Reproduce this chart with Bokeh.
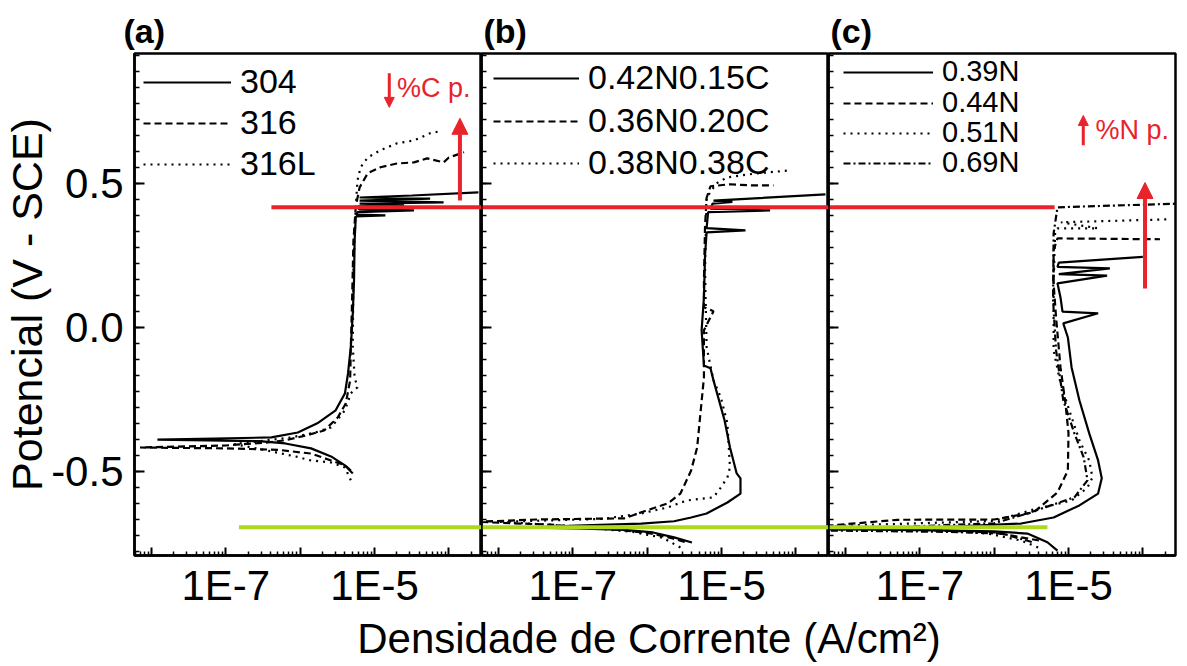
from bokeh.plotting import figure
from bokeh.models import (FixedTicker, NumeralTickFormatter, Legend, LegendItem,
                          Arrow, NormalHead, Label, Range1d, Title)
from bokeh.layouts import column, row
from bokeh.embed import file_html
from bokeh.resources import INLINE

FONT = "Liberation Sans"
RED = "#e8232b"
GREEN = "#abd91e"

# ---------------- axes ----------------
X_START, X_END = 5.9e-9, 2.75e-4
Y_START, Y_END = -0.792, 0.951
X_MAJOR = [1e-8, 1e-7, 1e-6, 1e-5, 1e-4]
X_LABELS = ["", "1E-7", "", "1E-5", ""]
X_MINOR = [m * 10.0 ** k for k in range(-9, -3) for m in range(2, 10)]
Y_MAJOR = [-0.5, 0.0, 0.5]
Y_MINOR = [i * 0.5 / 9 for i in range(-15, 18)]

# ---------------- panel (a) ----------------
a_labels = ["304", "316", "316L"]
a_304_i = [5.1e-6, 4.0e-6, 2.6e-6, 1.4e-6, 6.3e-7, 2.8e-7, 1.2e-8, 4.1e-7, 9.3e-7, 1.7e-6,
           3.0e-6, 4.0e-6, 4.4e-6, 4.8e-6, 5.1e-6, 5.3e-6, 5.4e-6, 5.6e-6, 1.4e-5, 5.7e-6,
           5.9e-6, 3.4e-5, 6.2e-6, 6.0e-6, 2.5e-5, 6.3e-6, 8.5e-5, 6.3e-6, 5.6e-5, 6.3e-6,
           3.2e-5, 2.5e-4]
a_304_v = [-0.507, -0.479, -0.448, -0.42, -0.403, -0.395, -0.390, -0.382, -0.365, -0.333,
           -0.288, -0.229, -0.16, -0.068, 0.047, 0.163, 0.30, 0.385, 0.389, 0.392,
           0.40, 0.406, 0.41, 0.42, 0.425, 0.43, 0.434, 0.44, 0.447, 0.451,
           0.458, 0.469]
a_316_i = [4.8e-6, 4.0e-6, 2.6e-6, 1.4e-6, 5.0e-7, 1.0e-7, 7.0e-9, 1.0e-7, 3.4e-7, 6.3e-7,
           1.2e-6, 2.1e-6, 3.2e-6, 4.1e-6, 4.7e-6, 4.8e-6, 5.0e-6, 5.2e-6, 5.6e-6, 6.3e-6,
           8.1e-6, 1.2e-5, 2.0e-5, 3.4e-5, 5.1e-5, 8.5e-5, 1.0e-4, 1.6e-4]
a_316_v = [-0.497, -0.479, -0.462, -0.438, -0.425, -0.42, -0.417, -0.41, -0.40, -0.392,
           -0.375, -0.358, -0.313, -0.264, -0.184, -0.068, 0.10, 0.30, 0.42, 0.486,
           0.535, 0.556, 0.569, 0.573, 0.587, 0.573, 0.59, 0.608]
a_316L_i = [4.8e-6, 4.0e-6, 2.6e-6, 1.4e-6, 9.3e-7, 4.0e-7, 1.3e-7, 7.6e-7, 1.6e-6, 2.6e-6,
            4.0e-6, 4.8e-6, 5.9e-6, 5.4e-6, 5.1e-6, 5.2e-6, 5.6e-6, 5.9e-6, 6.5e-6, 8.1e-6,
            1.2e-5, 2.0e-5, 3.4e-5, 5.6e-5, 7.6e-5]
a_316L_v = [-0.531, -0.486, -0.469, -0.462, -0.45, -0.43, -0.405, -0.382, -0.365, -0.347,
            -0.288, -0.229, -0.208, -0.174, -0.068, 0.20, 0.42, 0.51, 0.556, 0.59,
            0.615, 0.639, 0.649, 0.674, 0.681]

# ---------------- panel (b) ----------------
b_labels = ["0.42N0.15C", "0.36N0.20C", "0.38N0.38C"]
b_s1_i = [4.0e-6, 2.3e-6, 1.2e-6, 4.9e-7, 1.1e-7, 2.8e-8, 1.1e-7, 8.3e-7, 2.3e-6, 3.9e-6,
          6.3e-6, 1.2e-5, 1.8e-5, 1.8e-5, 1.6e-5, 1.3e-5, 1.1e-5, 7.8e-6, 7.1e-6, 5.8e-6,
          5.4e-6, 5.8e-6, 6.0e-6, 6.3e-6, 2.1e-5, 6.3e-6, 6.6e-6, 4.5e-5, 7.1e-6, 7.6e-6,
          1.4e-5, 7.8e-6, 3.2e-5, 2.5e-4]
b_s1_v = [-0.747, -0.729, -0.712, -0.703, -0.698, -0.695, -0.688, -0.681, -0.673, -0.66,
          -0.646, -0.608, -0.577, -0.524, -0.507, -0.417, -0.323, -0.184, -0.142, -0.132,
          -0.01, 0.104, 0.25, 0.33, 0.337, 0.345, 0.40, 0.406, 0.412, 0.43,
          0.436, 0.44, 0.449, 0.462]
b_s2_i = [3.2e-6, 2.2e-6, 1.1e-6, 3.2e-7, 5.0e-8, 5.0e-9, 3.2e-8, 4.9e-7, 1.0e-6, 1.9e-6,
          2.8e-6, 3.9e-6, 4.7e-6, 5.2e-6, 5.8e-6, 5.8e-6, 7.8e-6, 5.8e-6, 5.8e-6, 6.0e-6,
          6.3e-6, 7.1e-6, 1.3e-5, 2.5e-5, 5.0e-5]
b_s2_v = [-0.745, -0.733, -0.715, -0.70, -0.685, -0.675, -0.667, -0.663, -0.635, -0.611,
          -0.577, -0.497, -0.417, -0.30, -0.174, -0.01, 0.056, 0.07, 0.163, 0.35,
          0.45, 0.49, 0.497, 0.493, 0.493]
b_s3_i = [2.8e-6, 1.6e-6, 6.3e-7, 1.0e-7, 1.0e-8, 2.5e-7, 8.3e-7, 1.9e-6, 3.4e-6, 7.8e-6,
          9.8e-6, 1.2e-5, 1.3e-5, 1.2e-5, 9.8e-6, 7.8e-6, 6.3e-6, 6.0e-6, 6.3e-6, 8.5e-6,
          1.2e-5, 3.0e-5, 8.3e-5]
b_s3_v = [-0.764, -0.73, -0.71, -0.69, -0.675, -0.665, -0.646, -0.625, -0.601, -0.59,
          -0.556, -0.521, -0.486, -0.333, -0.243, -0.184, -0.068, 0.20, 0.45, 0.50,
          0.521, 0.535, 0.545]

# ---------------- panel (c) ----------------
c_labels = ["0.39N", "0.44N", "0.51N", "0.69N"]
c_s1_i = [7.1e-6, 5.2e-6, 2.8e-6, 1.0e-6, 1.8e-7, 5.0e-9, 1.8e-7, 2.3e-6, 6.3e-6, 1.4e-5,
          2.5e-5, 2.8e-5, 2.5e-5, 1.9e-5, 1.4e-5, 1.1e-5, 9.8e-6, 8.5e-6, 2.5e-5, 8.3e-6,
          7.8e-6, 7.1e-6, 3.3e-5, 7.4e-6, 3.6e-5, 7.1e-6, 7.4e-6, 1.0e-4]
c_s1_v = [-0.775, -0.746, -0.716, -0.708, -0.705, -0.70, -0.694, -0.681, -0.66, -0.618,
          -0.577, -0.524, -0.462, -0.368, -0.253, -0.139, -0.035, 0.014, 0.049, 0.055,
          0.104, 0.153, 0.18, 0.185, 0.205, 0.21, 0.225, 0.245]
c_s2_i = [4.0e-6, 1.0e-6, 1.6e-7, 5.0e-9, 5.0e-8, 1.0e-6, 3.4e-6, 7.1e-6, 9.8e-6, 1.0e-5,
          9.1e-6, 7.8e-6, 6.8e-6, 6.3e-6, 6.3e-6, 7.1e-6, 1.7e-4]
c_s2_v = [-0.74, -0.712, -0.705, -0.69, -0.668, -0.667, -0.642, -0.573, -0.497, -0.368,
          -0.264, -0.139, 0.035, 0.153, 0.267, 0.309, 0.306]
c_s3_i = [3.9e-6, 2.3e-6, 8.3e-7, 1.0e-7, 5.0e-9, 1.0e-7, 1.0e-6, 3.1e-6, 1.1e-5, 1.8e-5,
          2.1e-5, 1.9e-5, 1.4e-5, 1.1e-5, 7.8e-6, 6.3e-6, 6.3e-6, 6.6e-6, 7.1e-6, 2.5e-5,
          7.9e-6, 2.1e-4]
c_s3_v = [-0.764, -0.74, -0.716, -0.70, -0.69, -0.68, -0.672, -0.635, -0.601, -0.556,
          -0.521, -0.462, -0.392, -0.312, -0.194, -0.08, 0.153, 0.33, 0.344, 0.344,
          0.365, 0.375]
c_s4_i = [3.2e-6, 1.3e-6, 2.5e-7, 5.0e-9, 1.0e-7, 1.0e-6, 2.8e-6, 1.2e-5, 1.8e-5, 1.6e-5,
          1.2e-5, 8.5e-6, 6.8e-6, 6.2e-6, 6.3e-6, 7.1e-6, 3.2e-4]
c_s4_v = [-0.745, -0.716, -0.71, -0.705, -0.69, -0.68, -0.646, -0.59, -0.531, -0.451,
          -0.368, -0.253, -0.08, 0.094, 0.326, 0.417, 0.43]

# ---------------- annotations (red / green guides) ----------------
RED_V = 0.417
RED_A_FROM = 4.1e-7
RED_C_TO = 6.5e-6
GREEN_V = -0.694
GREEN_A_FROM = 1.5e-7
GREEN_C_TO = 5.2e-6

FW, FH = 347, 502
DASH = {"solid": "solid", "dashed": "7 4", "dotted": "2 5", "dashdot": "7 3 2 3"}


def make_panel(title, t_offset, first):
    p = figure(frame_width=FW, frame_height=FH, x_axis_type="log",
               x_range=Range1d(X_START, X_END), y_range=Range1d(Y_START, Y_END),
               output_backend="svg", toolbar_location=None,
               min_border_left=128 if first else 0, min_border_right=0,
               min_border_top=53, min_border_bottom=0)
    p.title = Title(text=title, text_font=FONT, text_font_style="bold", text_color="black",
                    text_font_size="34px", align="left", offset=t_offset, standoff=8)
    p.grid.visible = False
    p.outline_line_color = "black"
    p.outline_line_width = 2.5
    p.background_fill_color = "white"
    p.border_fill_color = "white"

    xa = p.xaxis[0]
    xa.ticker = FixedTicker(ticks=X_MAJOR, minor_ticks=X_MINOR)
    xa.major_label_overrides = {t: l for t, l in zip(X_MAJOR, X_LABELS)}
    xa.major_label_text_font = FONT
    xa.major_label_text_color = "black"
    xa.major_label_text_font_size = "42px"
    xa.major_label_standoff = 6
    xa.major_tick_in, xa.major_tick_out = 8, 0
    xa.minor_tick_in, xa.minor_tick_out = 4, 0
    xa.axis_line_width = 2.5
    xa.major_tick_line_width = 2
    xa.minor_tick_line_width = 1.5

    ya = p.yaxis[0]
    ya.ticker = FixedTicker(ticks=Y_MAJOR, minor_ticks=Y_MINOR)
    ya.major_tick_in, ya.major_tick_out = 10, 0
    ya.minor_tick_in, ya.minor_tick_out = 5, 0
    ya.axis_line_width = 2.5
    ya.major_tick_line_width = 2
    ya.minor_tick_line_width = 1.5
    if first:
        ya.formatter = NumeralTickFormatter(format="0.0")
        ya.major_label_text_font = FONT
        ya.major_label_text_color = "black"
        ya.major_label_text_font_size = "42px"
        ya.major_label_standoff = 11
        ya.axis_label = "Potencial (V - SCE)"
        ya.axis_label_text_font = FONT
        ya.axis_label_text_color = "black"
        ya.axis_label_text_font_size = "43px"
        ya.axis_label_text_font_style = "normal"
        ya.axis_label_standoff = -3
    else:
        ya.major_label_overrides = {t: "" for t in Y_MAJOR}
        ya.major_label_standoff = 0
    return p


def add_legend(p, renderers, labels, font_size, glyph_w, locs):
    # one single-entry legend per series, so that rows can sit as close as the reference
    for r, l, loc in zip(renderers, labels, locs):
        leg = Legend(items=[LegendItem(label=l, renderers=[r])], location=loc,
                     padding=0, margin=0, spacing=0,
                     glyph_width=glyph_w, glyph_height=16, label_height=16,
                     label_standoff=9, label_text_font=FONT, label_text_color="black",
                     label_text_font_size=font_size,
                     background_fill_alpha=0, border_line_alpha=0)
        p.add_layout(leg)


def curve(p, xs, ys, style):
    return p.line(xs, ys, line_color="black", line_width=2.2, line_dash=DASH[style])


# ----- (a)
pa = make_panel("(a)", -11, True)
ra = [curve(pa, a_304_i, a_304_v, "solid"),
      curve(pa, a_316_i, a_316_v, "dashed"),
      curve(pa, a_316L_i, a_316L_v, "dotted")]
add_legend(pa, ra, a_labels, "34px", 88, [(9, 454), (9, 413), (9, 372)])
pa.segment(x0=[RED_A_FROM], y0=[RED_V], x1=[X_END], y1=[RED_V], line_color=RED, line_width=4)
pa.segment(x0=[GREEN_A_FROM], y0=[GREEN_V], x1=[X_END], y1=[GREEN_V], line_color=GREEN, line_width=4)
pa.add_layout(Arrow(end=NormalHead(size=16, fill_color=RED, line_color=RED),
                    x_start=1.41e-4, y_start=0.441, x_end=1.41e-4, y_end=0.726,
                    line_color=RED, line_width=4))
pa.add_layout(Arrow(end=NormalHead(size=10, fill_color=RED, line_color=RED),
                    x_start=1.58e-5, y_start=0.882, x_end=1.58e-5, y_end=0.764,
                    line_color=RED, line_width=3))
pa.add_layout(Label(x=2.0e-5, y=0.83, text="%C p.", text_color=RED, text_font=FONT,
                    text_font_size="27px", text_baseline="middle"))

# ----- (b)
pb = make_panel("(b)", 2, False)
rb = [curve(pb, b_s1_i, b_s1_v, "solid"),
      curve(pb, b_s2_i, b_s2_v, "dashed"),
      curve(pb, b_s3_i, b_s3_v, "dotted")]
add_legend(pb, rb, b_labels, "34px", 86, [(12, 458), (12, 415), (12, 373)])
pb.segment(x0=[X_START], y0=[RED_V], x1=[X_END], y1=[RED_V], line_color=RED, line_width=4)
pb.segment(x0=[X_START], y0=[GREEN_V], x1=[X_END], y1=[GREEN_V], line_color=GREEN, line_width=4)

# ----- (c)
pc = make_panel("(c)", 2, False)
pc.min_border_right = 2
rc = [curve(pc, c_s1_i, c_s1_v, "solid"),
      curve(pc, c_s2_i, c_s2_v, "dashed"),
      curve(pc, c_s3_i, c_s3_v, "dotted"),
      curve(pc, c_s4_i, c_s4_v, "dashdot")]
add_legend(pc, rc, c_labels, "29px", 90, [(15, 467), (15, 436), (15, 406), (15, 376)])
pc.segment(x0=[X_START], y0=[RED_V], x1=[RED_C_TO], y1=[RED_V], line_color=RED, line_width=4)
pc.segment(x0=[X_START], y0=[GREEN_V], x1=[GREEN_C_TO], y1=[GREEN_V], line_color=GREEN, line_width=4)
pc.add_layout(Arrow(end=NormalHead(size=16, fill_color=RED, line_color=RED),
                    x_start=1.07e-4, y_start=0.135, x_end=1.07e-4, y_end=0.503,
                    line_color=RED, line_width=4))
pc.add_layout(Arrow(end=NormalHead(size=10, fill_color=RED, line_color=RED),
                    x_start=1.58e-5, y_start=0.632, x_end=1.58e-5, y_end=0.736,
                    line_color=RED, line_width=3))
pc.add_layout(Label(x=2.3e-5, y=0.684, text="%N p.", text_color=RED, text_font=FONT,
                    text_font_size="27px", text_baseline="middle"))

# ----- shared x-axis title
ft = figure(frame_width=3 * FW, frame_height=1, x_range=Range1d(0, 1), y_range=Range1d(0, 1),
            output_backend="svg", toolbar_location=None,
            min_border_left=128, min_border_right=0, min_border_top=0, min_border_bottom=0)
ft.outline_line_color = None
ft.grid.visible = False
ft.yaxis.visible = False
fx = ft.xaxis[0]
fx.ticker = FixedTicker(ticks=[])
fx.axis_line_color = None
fx.major_tick_line_color = None
fx.minor_tick_line_color = None
fx.major_label_standoff = 0
fx.axis_label = "Densidade de Corrente (A/cm²)"
fx.axis_label_text_font = FONT
fx.axis_label_text_color = "black"
fx.axis_label_text_font_size = "42px"
fx.axis_label_text_font_style = "normal"
fx.axis_label_standoff = 2

layout = column(row(pa, pb, pc), ft)
open("out.html", "w").write(file_html(layout, INLINE))
